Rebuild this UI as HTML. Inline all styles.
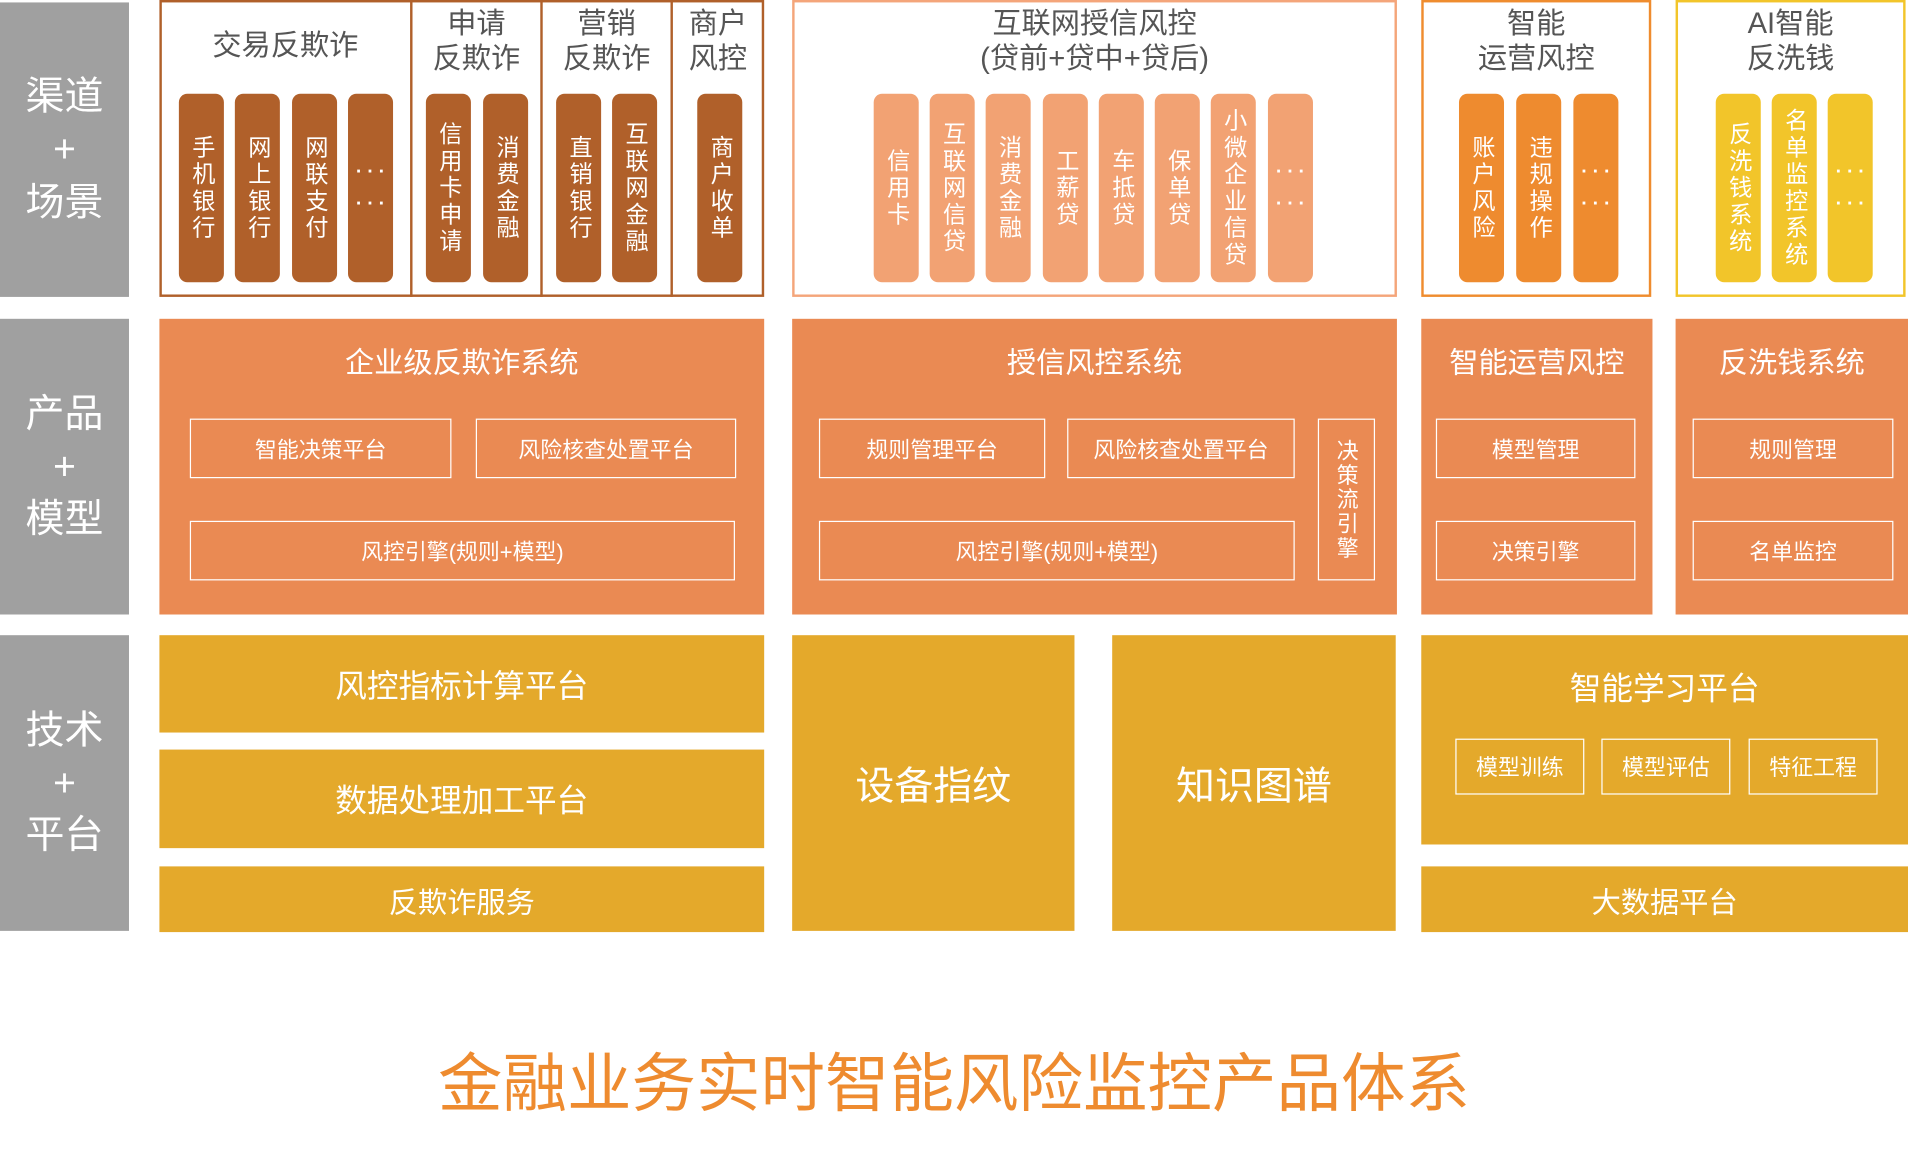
<!DOCTYPE html>
<html><head><meta charset="utf-8"><style>
html,body{margin:0;padding:0;background:#fff;width:1908px;height:1171px;overflow:hidden}
#w{position:absolute;left:0;top:0;width:1568px;height:962px;transform:scale(1.21684);transform-origin:0 0;font-family:"Liberation Sans","Noto Sans CJK SC",sans-serif}
.a{position:absolute;box-sizing:border-box}
.g{background:#a0a0a0;color:#fff;font-size:32px;display:flex;flex-direction:column;align-items:center;justify-content:center;line-height:1.35}
.t{color:#555;font-size:24px;text-align:center;line-height:1.2}
.p{border-radius:7px;color:#fff;font-size:19px;display:flex;align-items:center;justify-content:center;writing-mode:vertical-rl;text-orientation:upright;line-height:1;letter-spacing:3px}
.d{border-radius:7px;color:#fff;font-size:16px;font-weight:bold;display:flex;flex-direction:column;align-items:center;justify-content:center;line-height:26px;letter-spacing:4px;padding-left:4px}
.c{color:#fff;display:flex;align-items:center;justify-content:center;text-align:center}
.o{border:1.5px solid #fff;color:#fff;font-size:18px;display:flex;align-items:center;justify-content:center}
</style></head><body><div id="w">
<div class="a g" style="left:0;top:2px;width:106px;height:242px"><div>渠道</div><div>+</div><div>场景</div></div>
<div class="a g" style="left:0;top:262px;width:106px;height:243px"><div>产品</div><div>+</div><div>模型</div></div>
<div class="a g" style="left:0;top:522px;width:106px;height:243px"><div>技术</div><div>+</div><div>平台</div></div>

<div class="a" style="left:131px;top:0;width:497px;height:244px;border:2px solid #b0602a"></div>
<div class="a" style="left:337px;top:0;width:2px;height:244px;background:#b0602a"></div>
<div class="a" style="left:444px;top:0;width:2px;height:244px;background:#b0602a"></div>
<div class="a" style="left:551px;top:0;width:2px;height:244px;background:#b0602a"></div>
<div class="a t" style="left:131px;top:24px;width:207px">交易反欺诈</div>
<div class="a t" style="left:338px;top:6px;width:107px">申请<br>反欺诈</div>
<div class="a t" style="left:445px;top:6px;width:107px">营销<br>反欺诈</div>
<div class="a t" style="left:552px;top:6px;width:76px">商户<br>风控</div>

<div class="a" style="left:651px;top:0;width:497px;height:244px;border:2px solid #f4a57a"></div>
<div class="a t" style="left:651px;top:6px;width:497px">互联网授信风控<br>(贷前+贷中+贷后)</div>
<div class="a" style="left:1168px;top:0;width:189px;height:244px;border:2px solid #ef8c2e"></div>
<div class="a t" style="left:1168px;top:6px;width:189px">智能<br>运营风控</div>
<div class="a" style="left:1377px;top:0;width:189px;height:244px;border:2px solid #f2c52a"></div>
<div class="a t" style="left:1377px;top:6px;width:189px">AI智能<br>反洗钱</div>

<div class="a p" style="left:147px;top:77px;width:37px;height:155px;background:#b0602a">手机银行</div>
<div class="a p" style="left:193px;top:77px;width:37px;height:155px;background:#b0602a">网上银行</div>
<div class="a p" style="left:240px;top:77px;width:37px;height:155px;background:#b0602a">网联支付</div>
<div class="a d" style="left:286px;top:77px;width:37px;height:155px;background:#b0602a"><div>···</div><div>···</div></div>
<div class="a p" style="left:350px;top:77px;width:37px;height:155px;background:#b0602a">信用卡申请</div>
<div class="a p" style="left:397px;top:77px;width:37px;height:155px;background:#b0602a">消费金融</div>
<div class="a p" style="left:457px;top:77px;width:37px;height:155px;background:#b0602a">直销银行</div>
<div class="a p" style="left:503px;top:77px;width:37px;height:155px;background:#b0602a">互联网金融</div>
<div class="a p" style="left:573px;top:77px;width:37px;height:155px;background:#b0602a">商户收单</div>

<div class="a p" style="left:718px;top:77px;width:37px;height:155px;background:#f2a273">信用卡</div>
<div class="a p" style="left:764px;top:77px;width:37px;height:155px;background:#f2a273">互联网信贷</div>
<div class="a p" style="left:810px;top:77px;width:37px;height:155px;background:#f2a273">消费金融</div>
<div class="a p" style="left:857px;top:77px;width:37px;height:155px;background:#f2a273">工薪贷</div>
<div class="a p" style="left:903px;top:77px;width:37px;height:155px;background:#f2a273">车抵贷</div>
<div class="a p" style="left:949px;top:77px;width:37px;height:155px;background:#f2a273">保单贷</div>
<div class="a p" style="left:995px;top:77px;width:37px;height:155px;background:#f2a273">小微企业信贷</div>
<div class="a d" style="left:1042px;top:77px;width:37px;height:155px;background:#f2a273"><div>···</div><div>···</div></div>

<div class="a p" style="left:1199px;top:77px;width:37px;height:155px;background:#ee8b2f">账户风险</div>
<div class="a p" style="left:1246px;top:77px;width:37px;height:155px;background:#ee8b2f">违规操作</div>
<div class="a d" style="left:1293px;top:77px;width:37px;height:155px;background:#ee8b2f"><div>···</div><div>···</div></div>
<div class="a p" style="left:1410px;top:77px;width:37px;height:155px;background:#f2c52a">反洗钱系统</div>
<div class="a p" style="left:1456px;top:77px;width:37px;height:155px;background:#f2c52a">名单监控系统</div>
<div class="a d" style="left:1502px;top:77px;width:37px;height:155px;background:#f2c52a"><div>···</div><div>···</div></div>

<div class="a" style="left:131px;top:262px;width:497px;height:243px;background:#ea8a53"></div>
<div class="a" style="left:651px;top:262px;width:497px;height:243px;background:#ea8a53"></div>
<div class="a" style="left:1168px;top:262px;width:190px;height:243px;background:#ea8a53"></div>
<div class="a" style="left:1377px;top:262px;width:191px;height:243px;background:#ea8a53"></div>
<div class="a c" style="left:131px;top:278px;width:497px;height:34px;font-size:24px">企业级反欺诈系统</div>
<div class="a c" style="left:651px;top:278px;width:497px;height:34px;font-size:24px">授信风控系统</div>
<div class="a c" style="left:1168px;top:278px;width:190px;height:34px;font-size:24px">智能运营风控</div>
<div class="a c" style="left:1377px;top:278px;width:191px;height:34px;font-size:24px">反洗钱系统</div>
<div class="a o" style="left:156px;top:344px;width:215px;height:49px">智能决策平台</div>
<div class="a o" style="left:391px;top:344px;width:214px;height:49px">风险核查处置平台</div>
<div class="a o" style="left:156px;top:428px;width:448px;height:49px">风控引擎(规则+模型)</div>
<div class="a o" style="left:673px;top:344px;width:186px;height:49px">规则管理平台</div>
<div class="a o" style="left:877px;top:344px;width:187px;height:49px">风险核查处置平台</div>
<div class="a o" style="left:673px;top:428px;width:391px;height:49px">风控引擎(规则+模型)</div>
<div class="a o" style="left:1083px;top:344px;width:47px;height:133px;writing-mode:vertical-rl;text-orientation:upright;letter-spacing:2px">决策流引擎</div>
<div class="a o" style="left:1180px;top:344px;width:164px;height:49px">模型管理</div>
<div class="a o" style="left:1180px;top:428px;width:164px;height:49px">决策引擎</div>
<div class="a o" style="left:1391px;top:344px;width:165px;height:49px">规则管理</div>
<div class="a o" style="left:1391px;top:428px;width:165px;height:49px">名单监控</div>

<div class="a c" style="left:131px;top:522px;width:497px;height:80px;background:#e4a92b;font-size:26px">风控指标计算平台</div>
<div class="a c" style="left:131px;top:616px;width:497px;height:81px;background:#e4a92b;font-size:26px">数据处理加工平台</div>
<div class="a c" style="left:131px;top:712px;width:497px;height:54px;background:#e4a92b;font-size:24px">反欺诈服务</div>
<div class="a c" style="left:651px;top:522px;width:232px;height:243px;background:#e4a92b;font-size:32px">设备指纹</div>
<div class="a c" style="left:914px;top:522px;width:233px;height:243px;background:#e4a92b;font-size:32px">知识图谱</div>
<div class="a" style="left:1168px;top:522px;width:400px;height:172px;background:#e4a92b"></div>
<div class="a c" style="left:1168px;top:546px;width:400px;height:36px;font-size:26px">智能学习平台</div>
<div class="a o" style="left:1196px;top:607px;width:106px;height:46px">模型训练</div>
<div class="a o" style="left:1316px;top:607px;width:106px;height:46px">模型评估</div>
<div class="a o" style="left:1437px;top:607px;width:106px;height:46px">特征工程</div>
<div class="a c" style="left:1168px;top:712px;width:400px;height:54px;background:#e4a92b;font-size:24px">大数据平台</div>

<div class="a c" style="left:0;top:854px;width:1568px;height:66px;color:#ee8b2f;font-size:53px">金融业务实时智能风险监控产品体系</div>
</div></body></html>
